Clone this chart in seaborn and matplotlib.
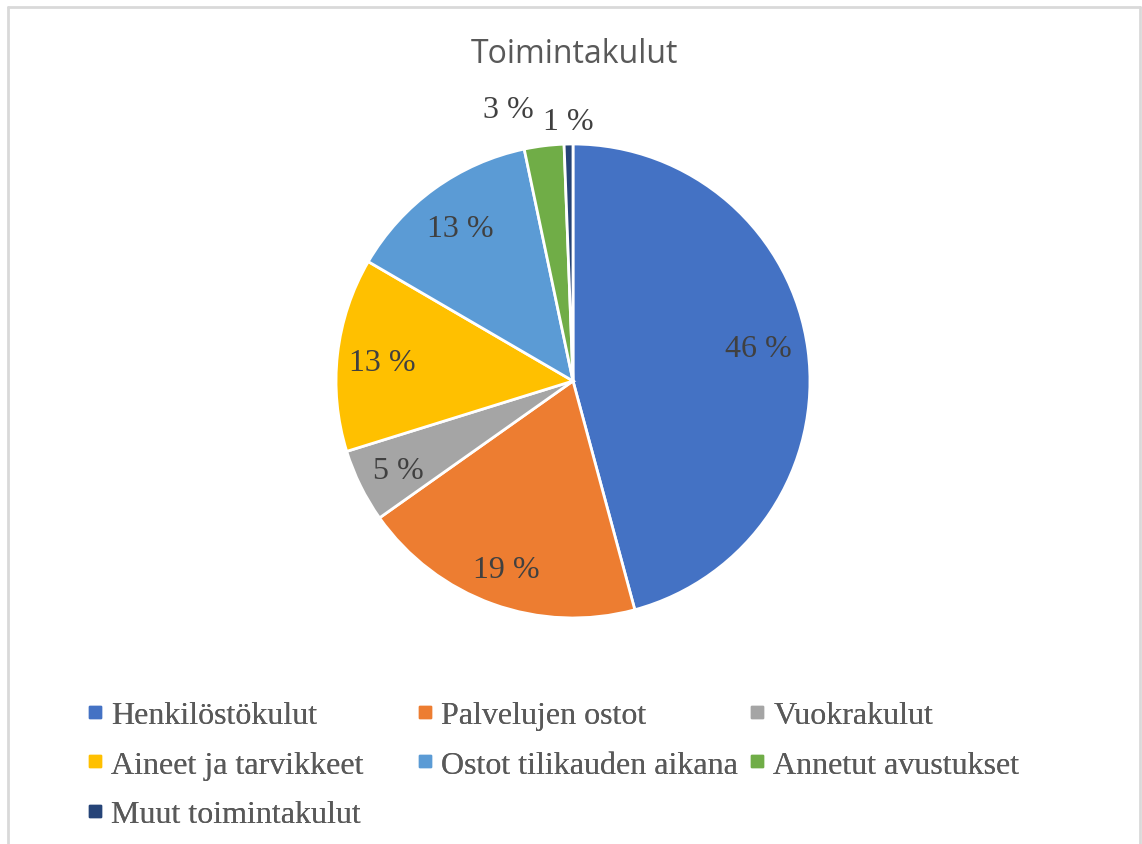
import numpy as np
import matplotlib
matplotlib.use("Agg")
import matplotlib.pyplot as plt
import seaborn as sns
from matplotlib.lines import Line2D

# data
categories = ["Henkilöstökulut", "Palvelujen ostot", "Vuokrakulut",
              "Aineet ja tarvikkeet", "Ostot tilikauden aikana",
              "Annetut avustukset", "Muut toimintakulut"]
shares = [45.8, 19.4, 5.0, 13.2, 13.3, 2.7, 0.6]
colors = ["#4472C4", "#ED7D31", "#A5A5A5", "#FFC000",
          "#5B9BD5", "#70AD47", "#264478"]

sns.set_theme(style="white")
plt.rcParams['font.family'] = ['Liberation Serif', 'DejaVu Serif']
text_col = "#595959"

fig = plt.figure(figsize=(11.42, 8.45), dpi=100)
ax = fig.add_axes([0.2942, 0.2675, 0.4151, 0.5609])

wedges, _ = ax.pie(shares, colors=sns.color_palette(colors), startangle=90,
                   counterclock=False,
                   wedgeprops=dict(edgecolor="white", linewidth=2))
ax.set_xlim(-1, 1)
ax.set_ylim(-1, 1)

# data labels: inside for big slices, outside for the two small ones
label_r = [0.79, 0.83, 0.82, 0.81, 0.81, 1.17, 1.11]
x_nudge = [0, 0, 0, 0, 0, -0.13, 0]
y_nudge = [0.05, 0, 0, 0, 0, 0, 0]
for w, v, r, dx, dy in zip(wedges, shares, label_r, x_nudge, y_nudge):
    mid = np.deg2rad((w.theta1 + w.theta2) / 2)
    ax.text(r * np.cos(mid) + dx, r * np.sin(mid) + dy, f"{round(v)} %",
            ha="center", va="center_baseline", fontsize=23, color="#404040")

fig.text(0.503, 0.936, "Toimintakulut", ha="center", va="center",
         fontsize=23, color=text_col, family=['Open Sans', 'DejaVu Sans'])

# legend: three fixed-width columns, filled row by row
columns = [[0, 3, 6], [1, 4], [2, 5]]
col_x = [89 / 1142, 419 / 1142, 751 / 1142]
for idx, x0 in zip(columns, col_x):
    handles = [Line2D([], [], marker="s", linestyle="none", markersize=8,
                      color=colors[i]) for i in idx]
    leg = fig.legend(handles, [categories[i] for i in idx],
                     loc="upper left", bbox_to_anchor=(x0, 0.170),
                     frameon=False, fontsize=23, labelcolor=text_col,
                     handletextpad=0.3, handlelength=0.4,
                     labelspacing=0.64, borderaxespad=0, borderpad=0)
    fig.add_artist(leg)

# light chart border (open at the bottom like the screenshot)
bc = "#d9d9d9"
fig.add_artist(Line2D([8 / 1142, 8 / 1142], [0, 1 - 8 / 845], color=bc, lw=2))
fig.add_artist(Line2D([8 / 1142, 1140 / 1142], [1 - 8 / 845, 1 - 8 / 845], color=bc, lw=2))
fig.add_artist(Line2D([1140 / 1142, 1140 / 1142], [0, 1 - 8 / 845], color=bc, lw=2))

fig.savefig("out.png", dpi=100)
